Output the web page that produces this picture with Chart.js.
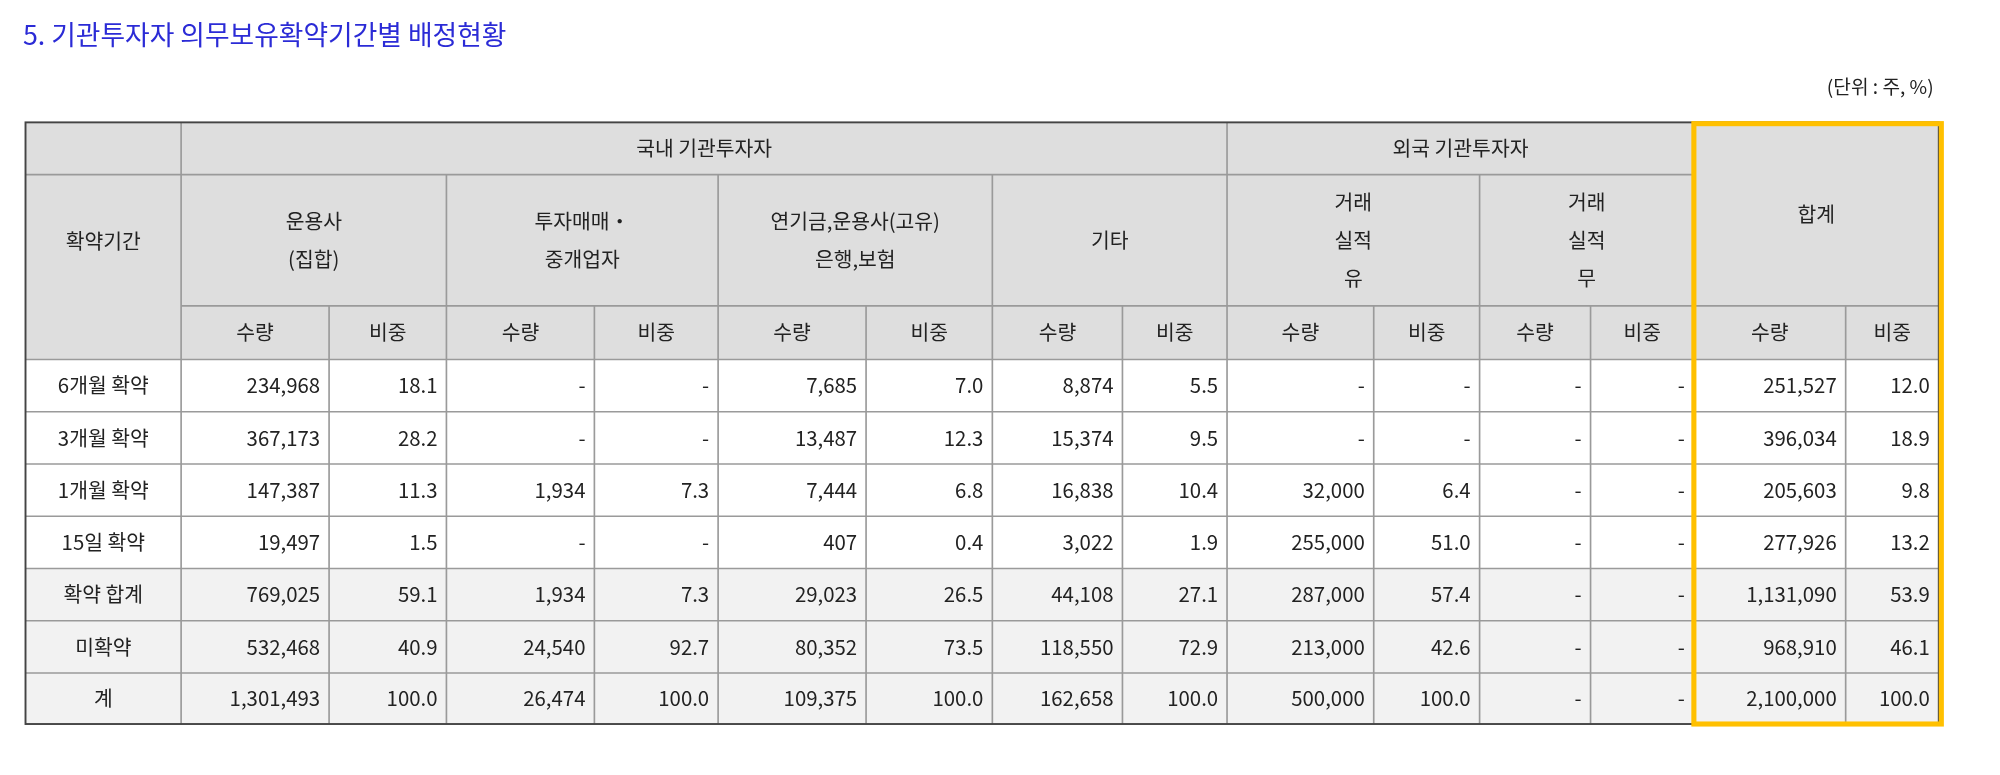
<!DOCTYPE html>
<html>
<head>
<meta charset="utf-8">
<script src="https://cdn.jsdelivr.net/npm/chart.js@4.4.1/dist/chart.umd.min.js"></script>
<style>
  html, body { margin: 0; padding: 0; background: #fff; }
  #wrap { width: 2000px; height: 775px; }
</style>
</head>
<body>
<div id="wrap"><canvas id="tableChart"></canvas></div>
<script>
// 표 데이터
const title = '5. 기관투자자 의무보유확약기간별 배정현황';
const unitText = '(단위 : 주, %)';
const rowLabels = ['6개월 확약', '3개월 확약', '1개월 확약', '15일 확약', '확약 합계', '미확약', '계'];
const groupHeaders = ['국내 기관투자자', '외국 기관투자자'];
const subHeaders = [['운용사', '(집합)'], ['투자매매・', '중개업자'], ['연기금,운용사(고유)', '은행,보험'], ['기타'], ['거래', '실적', '유'], ['거래', '실적', '무'], ['합계']];
const metricHeaders = ['수량', '비중'];

const unyong    = [['234,968', '18.1'], ['367,173', '28.2'], ['147,387', '11.3'], ['19,497', '1.5'], ['769,025', '59.1'], ['532,468', '40.9'], ['1,301,493', '100.0']];
const tuja      = [['-', '-'], ['-', '-'], ['1,934', '7.3'], ['-', '-'], ['1,934', '7.3'], ['24,540', '92.7'], ['26,474', '100.0']];
const yeongi    = [['7,685', '7.0'], ['13,487', '12.3'], ['7,444', '6.8'], ['407', '0.4'], ['29,023', '26.5'], ['80,352', '73.5'], ['109,375', '100.0']];
const gita      = [['8,874', '5.5'], ['15,374', '9.5'], ['16,838', '10.4'], ['3,022', '1.9'], ['44,108', '27.1'], ['118,550', '72.9'], ['162,658', '100.0']];
const foreignYu = [['-', '-'], ['-', '-'], ['32,000', '6.4'], ['255,000', '51.0'], ['287,000', '57.4'], ['213,000', '42.6'], ['500,000', '100.0']];
const foreignMu = [['-', '-'], ['-', '-'], ['-', '-'], ['-', '-'], ['-', '-'], ['-', '-'], ['-', '-']];
const total     = [['251,527', '12.0'], ['396,034', '18.9'], ['205,603', '9.8'], ['277,926', '13.2'], ['1,131,090', '53.9'], ['968,910', '46.1'], ['2,100,000', '100.0']];
const seriesCols = [unyong, tuja, yeongi, gita, foreignYu, foreignMu, total];

// 레이아웃 (축 좌표)
const colX = [20, 142, 258, 350, 466, 563, 679, 778, 880, 962, 1077, 1160, 1247, 1328, 1447, 1520];
const rowY = [96, 137, 240, 282, 323, 364, 405, 446, 487, 528, 568];
const FONT = '"Noto Sans CJK KR", "Noto Sans", sans-serif';

const tablePlugin = {
    id: 'tablePlugin',
    afterDraw(chart) {
        const c = chart.ctx;
        const sx = chart.scales.x, sy = chart.scales.y;
        const X = v => sx.getPixelForValue(v);
        const Y = v => sy.getPixelForValue(v);
        const k = (X(1568) - X(0)) / 1568;
        const font = s => (s * k) + 'px ' + FONT;

        function rect(x0, y0, x1, y1, fill) {
            c.fillStyle = fill;
            c.fillRect(X(x0), Y(y0), X(x1) - X(x0), Y(y1) - Y(y0));
        }
        function line(x0, y0, x1, y1, col, w) {
            c.strokeStyle = col; c.lineWidth = w * k;
            c.beginPath(); c.moveTo(X(x0), Y(y0)); c.lineTo(X(x1), Y(y1)); c.stroke();
        }
        function text(t, x, y, align, size, col) {
            c.fillStyle = col || '#222'; c.font = font(size || 16);
            c.textAlign = align; c.textBaseline = 'middle';
            c.fillText(t, X(x), Y(y));
        }
        function lines(arr, xm, y0, y1) {
            const lh = 30, mid = (y0 + y1) / 2;
            arr.forEach((t, i) => text(t, xm, mid + (i - (arr.length - 1) / 2) * lh, 'center'));
        }

        c.save();
        // 제목
        text(title, 18, 27, 'left', 21, '#2b2bd6');
        text(unitText, 1516, 68, 'right', 15, '#222');

        // 배경
        rect(colX[0], rowY[0], colX[15], rowY[3], '#dedede');
        rect(colX[0], rowY[3], colX[1], rowY[7], '#ffffff');
        rect(colX[0], rowY[7], colX[15], rowY[10], '#f2f2f2');

        // 격자선
        const g = '#9a9a9a';
        line(colX[0], rowY[1], colX[13], rowY[1], g, 1.3);
        line(colX[1], rowY[2], colX[15], rowY[2], g, 1.3);
        for (let r = 3; r < 10; r++) line(colX[0], rowY[r], colX[15], rowY[r], g, 1.3);
        for (let i = 1; i < 15; i++) {
            let top = rowY[2];
            if (i % 2 === 1) top = rowY[1];
            if (i === 1 || i === 9 || i === 13) top = rowY[0];
            line(colX[i], top, colX[i], rowY[10], g, 1.3);
        }
        c.strokeStyle = '#444'; c.lineWidth = 1.5 * k;
        c.strokeRect(X(colX[0]), Y(rowY[0]), X(colX[15]) - X(colX[0]), Y(rowY[10]) - Y(rowY[0]));

        // 헤더
        lines(['확약기간'], (colX[0] + colX[1]) / 2, rowY[0], rowY[3]);
        text(groupHeaders[0], (colX[1] + colX[9]) / 2, (rowY[0] + rowY[1]) / 2, 'center');
        text(groupHeaders[1], (colX[9] + colX[13]) / 2, (rowY[0] + rowY[1]) / 2, 'center');
        subHeaders.forEach((h, i) => {
            const x0 = colX[1 + i * 2], x1 = colX[3 + i * 2];
            const y0 = i === 6 ? rowY[0] : rowY[1];
            lines(h, (x0 + x1) / 2, y0, rowY[2]);
            metricHeaders.forEach((m, j) => text(m, (colX[1 + i * 2 + j] + colX[2 + i * 2 + j]) / 2, (rowY[2] + rowY[3]) / 2, 'center'));
        });

        // 본문
        rowLabels.forEach((lab, r) => {
            const ym = (rowY[3 + r] + rowY[4 + r]) / 2;
            text(lab, (colX[0] + colX[1]) / 2, ym, 'center');
            seriesCols.forEach((col, i) => {
                col[r].forEach((v, j) => text(v, colX[2 + i * 2 + j] - 7, ym, 'right'));
            });
        });

        // 합계 강조 테두리
        c.strokeStyle = '#ffc000'; c.lineWidth = 4 * k;
        c.strokeRect(X(1328), Y(97), X(1522) - X(1328), Y(568) - Y(97));
        c.restore();
    }
};

document.addEventListener('DOMContentLoaded', function () {
    const ctx = document.getElementById('tableChart');
    new Chart(ctx, {
        type: 'scatter',
        data: { datasets: [{ data: [] }] },
        options: {
            responsive: true,
            maintainAspectRatio: false,
            animation: false,
            layout: { padding: 0 },
            plugins: { legend: { display: false }, tooltip: { enabled: false } },
            scales: {
                x: { type: 'linear', min: 0, max: 1568, display: false },
                y: { type: 'linear', min: 0, max: 608, reverse: true, display: false }
            }
        },
        plugins: [tablePlugin]
    });
});
</script>
</body>
</html>
